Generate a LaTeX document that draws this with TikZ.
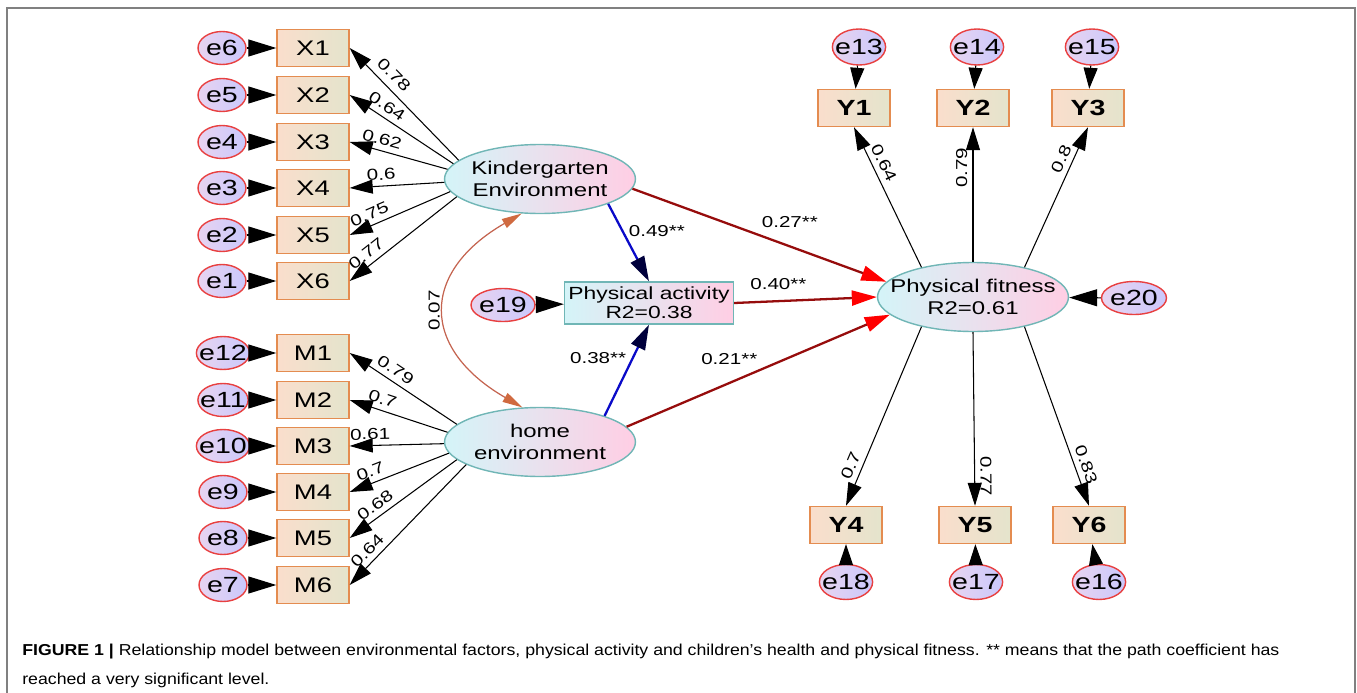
\documentclass[tikz,border=0pt]{standalone}
\usepackage{fontspec}
\setmainfont{Liberation Sans}[FakeStretch=1.3]
\newfontfamily\captionfont{Liberation Sans}[FakeStretch=1.12]
\usetikzlibrary{arrows.meta,shapes.geometric}

\definecolor{errpink}{RGB}{232,212,240}
\definecolor{errblue}{RGB}{202,200,252}
\definecolor{errline}{RGB}{232,64,64}
\definecolor{obsleft}{RGB}{250,222,204}
\definecolor{obsright}{RGB}{228,228,204}
\definecolor{obsline}{RGB}{228,140,80}
\definecolor{latleft}{RGB}{212,244,248}
\definecolor{latright}{RGB}{255,206,228}
\definecolor{latline}{RGB}{112,182,182}
\definecolor{covline}{RGB}{196,100,80}
\definecolor{pathred}{RGB}{150,12,12}
\definecolor{pathblue}{RGB}{10,10,200}
\definecolor{navy}{RGB}{0,0,60}

\tikzset{
  err/.style={ellipse, draw=errline, line width=0.8pt, left color=errpink, right color=errblue,
    inner sep=0pt, inner xsep=-0.1cm, minimum width=0.96cm, minimum height=0.66cm, font=\fontsize{12.5}{13}\selectfont},
  obs/.style={rectangle, draw=obsline, line width=0.8pt, left color=obsleft, right color=obsright,
    inner sep=0pt, minimum width=1.44cm, minimum height=0.74cm, font=\fontsize{12}{13}\selectfont},
  obsbold/.style={obs, font=\fontsize{12.5}{13}\selectfont\bfseries},
  latent/.style={ellipse, draw=latline, line width=0.8pt, left color=latleft, right color=latright,
    inner sep=0pt, inner xsep=-0.32cm, minimum width=3.82cm, minimum height=1.38cm, align=center, font=\fontsize{10.5}{12.5}\selectfont},
  mediator/.style={rectangle, draw=latline, line width=0.8pt, left color=latleft, right color=latright,
    inner sep=0pt, minimum width=3.38cm, minimum height=0.84cm, align=center, font=\fontsize{10}{11}\selectfont},
  errarrow/.style={-{Triangle[length=0.56cm,width=0.34cm]}, line width=0.6pt},
  errshort/.style={-{Triangle[length=0.42cm,width=0.28cm]}, line width=0.6pt},
  load/.style={-{Triangle[length=0.46cm,width=0.28cm]}, line width=0.6pt},
  redpath/.style={draw=pathred, line width=1.3pt, -{Triangle[length=0.5cm,width=0.3cm,color=red,fill=red]}},
  bluepath/.style={draw=pathblue, line width=1.3pt, -{Triangle[length=0.5cm,width=0.3cm,color=navy,fill=navy]}},
  covar/.style={draw=covline, line width=0.7pt,
    {Triangle[length=0.4cm,width=0.2cm,color=covline!80!orange,fill=covline!80!orange]}-{Triangle[length=0.4cm,width=0.2cm,color=covline!80!orange,fill=covline!80!orange]}},
  coef/.style={font=\fontsize{9}{10}\selectfont, inner sep=3pt},
  frame/.style={draw=gray, line width=1pt}
}

\begin{document}
\begin{tikzpicture}[x=0.02cm, y=-0.02cm]
  \useasboundingbox (0,0) rectangle (1357,693);
  \draw[frame] (7,693) -- (7,8) -- (1355,8) -- (1355,693);

  % latent variables
  \node[latent] (K) at (540,179) {Kindergarten\\Environment};
  \node[latent] (H) at (540,442) {home\\environment};
  \node[mediator] (PA) at (649,303) {Physical activity\\R2=0.38};
  \node[latent] (PF) at (973,297) {Physical fitness\\R2=0.61};
  \node[err, minimum width=1.28cm] (e19) at (503,305) {e19};
  \node[err, minimum width=1.3cm] (e20) at (1134,298) {e20};

  % kindergarten indicators
  \node[obs] (X1) at (313,48) {X1};
  \node[obs] (X2) at (313,95) {X2};
  \node[obs] (X3) at (313,142) {X3};
  \node[obs] (X4) at (313,188) {X4};
  \node[obs] (X5) at (313,235) {X5};
  \node[obs] (X6) at (313,281) {X6};
  \node[err] (e6) at (222,48) {e6};
  \node[err] (e5) at (222,95) {e5};
  \node[err] (e4) at (222,142) {e4};
  \node[err] (e3) at (222,188) {e3};
  \node[err] (e2) at (222,235) {e2};
  \node[err] (e1) at (222,281) {e1};

  % home indicators
  \node[obs] (M1) at (313,353) {M1};
  \node[obs] (M2) at (313,400) {M2};
  \node[obs] (M3) at (313,446) {M3};
  \node[obs] (M4) at (313,492) {M4};
  \node[obs] (M5) at (313,538) {M5};
  \node[obs] (M6) at (313,585) {M6};
  \node[err] (e12) at (223,353) {e12};
  \node[err] (e11) at (223,400) {e11};
  \node[err] (e10) at (223,446) {e10};
  \node[err] (e9) at (223,492) {e9};
  \node[err] (e8) at (223,538) {e8};
  \node[err] (e7) at (223,585) {e7};

  % fitness indicators
  \node[obsbold] (Y1) at (854,108) {Y1};
  \node[obsbold] (Y2) at (973,108) {Y2};
  \node[obsbold] (Y3) at (1088,108) {Y3};
  \node[obsbold] (Y4) at (846,525) {Y4};
  \node[obsbold] (Y5) at (975,525) {Y5};
  \node[obsbold] (Y6) at (1089,525) {Y6};
  \node[err, minimum height=0.72cm] (e13) at (859,47) {e13};
  \node[err, minimum height=0.72cm] (e14) at (977,47) {e14};
  \node[err, minimum height=0.72cm] (e15) at (1092,47) {e15};
  \node[err, minimum height=0.7cm] (e18) at (846,582) {e18};
  \node[err, minimum height=0.7cm] (e17) at (976,582) {e17};
  \node[err, minimum height=0.7cm] (e16) at (1099,582) {e16};

  % error terms
  \draw[errarrow] (e6) -- (X1);
  \draw[errarrow] (e5) -- (X2);
  \draw[errarrow] (e4) -- (X3);
  \draw[errarrow] (e3) -- (X4);
  \draw[errarrow] (e2) -- (X5);
  \draw[errarrow] (e1) -- (X6);
  \draw[errarrow] (e12) -- (M1);
  \draw[errarrow] (e11) -- (M2);
  \draw[errarrow] (e10) -- (M3);
  \draw[errarrow] (e9) -- (M4);
  \draw[errarrow] (e8) -- (M5);
  \draw[errarrow] (e7) -- (M6);
  \draw[errshort] (e13) -- (Y1);
  \draw[errshort] (e14) -- (Y2);
  \draw[errshort] (e15) -- (Y3);
  \draw[errshort] (e18) -- (Y4);
  \draw[errshort] (e17) -- (Y5);
  \draw[errshort] (e16) -- (Y6);
  \draw[errarrow] (e19) -- (PA);
  \draw[errarrow] (e20) -- (PF);

  % loadings
  \draw[load] (K.167) -- node[coef, pos=0.68, sloped, above=1pt] {0.78} (X1.east);
  \draw[load] (K.170) -- node[coef, pos=0.70, sloped, above] {0.64} (X2.east);
  \draw[load] (K.174) -- node[coef, pos=0.70, sloped, above] {0.62} (X3.east);
  \draw[load] (K.182) -- node[coef, pos=0.66, sloped, above] {0.6} (X4.east);
  \draw[load] (K.188) -- node[coef, pos=0.76, sloped, above] {0.75} (X5.east);
  \draw[load] (K.192) -- node[coef, pos=0.78, sloped, above] {0.77} (X6.east);
  \draw[load] (H.168) -- node[coef, pos=0.63, sloped, above] {0.79} (M1.east);
  \draw[load] (H.174) -- node[coef, pos=0.70, sloped, above] {0.7} (M2.east);
  \draw[load] (H.181) -- node[coef, pos=0.78, sloped, above] {0.61} (M3.east);
  \draw[load] (H.187) -- node[coef, pos=0.75, sloped, above] {0.7} (M4.east);
  \draw[load] (H.192) -- node[coef, pos=0.70, sloped, above] {0.68} (M5.east);
  \draw[load] (H.197) -- node[coef, pos=0.78, sloped, above] {0.64} (M6.east);
  \draw[load] (PF.150) -- node[coef, pos=0.71, sloped, above] {0.64} (Y1.south);
  \draw[load] (PF.90) -- node[coef, pos=0.70, sloped, above] {0.79} (Y2.south);
  \draw[load] (PF.30) -- node[coef, pos=0.74, sloped, above] {0.8} (Y3.south);
  \draw[load] (PF.210) -- node[coef, pos=0.80, sloped, above] {0.7} (Y4.north);
  \draw[load] (PF.270) -- node[coef, pos=0.83, sloped, above] {0.77} (Y5.north);
  \draw[load] (PF.330) -- node[coef, pos=0.79, sloped, above] {0.83} (Y6.north);

  % structural paths
  \draw[covar] (H.117) to[out=150, in=210, looseness=1.55]
    node[coef, midway, anchor=south, rotate=90] {0.07} (K.242);
  \draw[bluepath] (K.-20) -- node[coef, pos=0.35, right] {0.49**} (PA.north);
  \draw[bluepath] (H.22) -- node[coef, pos=0.63, left] {0.38**} (PA.south);
  \draw[redpath] (K.354) -- node[coef, pos=0.62, above=0.24cm] {0.27**} (PF.170);
  \draw[redpath] (PA.east) -- node[coef, pos=0.31, above=0.1cm] {0.40**} (PF.180);
  \draw[redpath] (H.10) -- node[coef, pos=0.39, above=0.24cm] {0.21**} (PF.192);

  % caption
  \node[anchor=north west, align=left, inner sep=0pt, font=\captionfont\fontsize{9}{16.4}\selectfont] (cap) at (22,644)
    {\textbf{FIGURE 1 |} Relationship model between environmental factors, physical activity and children’s health and physical fitness. ** means that the path coefficient has\\reached a very significant level.};
\end{tikzpicture}
\end{document}
